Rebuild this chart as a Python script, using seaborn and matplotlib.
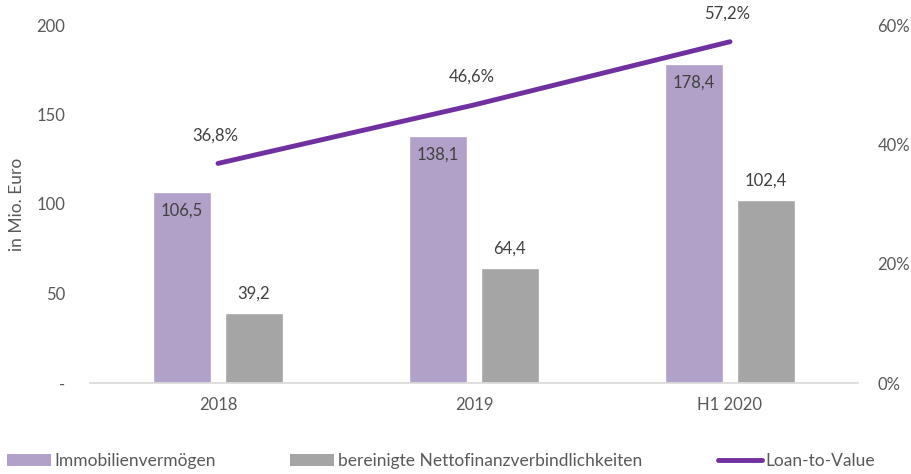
import matplotlib
matplotlib.use("Agg")
import matplotlib.pyplot as plt
from matplotlib.patches import Patch
from matplotlib.lines import Line2D
import numpy as np
import pandas as pd
import seaborn as sns

categories = ["2018", "2019", "H1 2020"]
immobilien = [106.5, 138.1, 178.4]
nettofinanz = [39.2, 64.4, 102.4]
ltv = [36.8, 46.6, 57.2]
series_names = ["Immobilienvermögen", "bereinigte Nettofinanzverbindlichkeiten"]
line_name = "Loan-to-Value"

sns.set_theme(style="white")
plt.rcParams["font.family"] = ["Lato", "DejaVu Sans"]

text_col = "#595959"
label_col = "#404040"
purple = "#B1A0C7"
grey = "#A5A5A5"
line_col = "#7030A0"

df = pd.DataFrame({
    "Jahr": categories * 2,
    "Wert": immobilien + nettofinanz,
    "Serie": [series_names[0]] * 3 + [series_names[1]] * 3,
})

W, H = 912, 474
fig = plt.figure(figsize=(W / 100, H / 100), dpi=100)
ax = fig.add_axes([90 / W, 1 - 383 / H, 768 / W, 358 / H])
sns.barplot(data=df, x="Jahr", y="Wert", hue="Serie", order=categories,
            palette=[purple, grey], width=0.56, gap=0.19, ax=ax,
            legend=False, saturation=1)

ax.set_xlim(-0.5, 2.5)
ax.set_ylim(0, 200)
ax.set_yticks([0, 50, 100, 150, 200])
ax.set_yticklabels(["-", "50", "100", "150", "200"])
ax.set_xlabel("")
ax.set_ylabel("in Mio. Euro", fontsize=12.5, color=text_col)
ax.yaxis.set_label_coords(-0.084, 0.5)
ax.tick_params(axis="both", length=0, labelsize=12, labelcolor=text_col)
ax.tick_params(axis="x", pad=10)
ax.tick_params(axis="y", pad=18)
for s in ["top", "right", "left"]:
    ax.spines[s].set_visible(False)
ax.spines["bottom"].set_color("#D9D9D9")
ax.spines["bottom"].set_linewidth(1.2)

# bar labels
for i, v in enumerate(immobilien):
    ax.text(i - 0.14, v - 6, f"{v:.1f}".replace(".", ","), ha="center", va="top",
            fontsize=12, color=label_col)
for i, v in enumerate(nettofinanz):
    ax.text(i + 0.14, v + 6, f"{v:.1f}".replace(".", ","), ha="center", va="bottom",
            fontsize=12, color=label_col)

ax2 = ax.twinx()
sns.lineplot(x=np.arange(len(categories)), y=ltv, color=line_col, linewidth=3.5,
             ax=ax2, legend=False)
ax2.set_ylim(0, 60)
ax2.set_yticks([0, 20, 40, 60])
ax2.set_yticklabels(["0%", "20%", "40%", "60%"])
ax2.tick_params(axis="y", length=0, labelsize=12, labelcolor=text_col, pad=14)
for s in ax2.spines.values():
    s.set_visible(False)
ax2.set_xlim(-0.5, 2.5)
for i, v in enumerate(ltv):
    ax2.text(i - 0.01, v + 3.4, f"{v:.1f}%".replace(".", ","), ha="center", va="bottom",
             fontsize=12, color=label_col)

# legend entries placed individually
handles = [
    Patch(facecolor=purple, edgecolor="none"),
    Patch(facecolor=grey, edgecolor="none"),
    Line2D([0], [0], color=line_col, linewidth=3.5, solid_capstyle="round"),
]
labels = series_names + [line_name]
lx = [7, 290, 718]
for h, lab, x in zip(handles, labels, lx):
    fig.legend([h], [lab], loc="center left", bbox_to_anchor=(x / W, 1 - 461 / H),
               frameon=False, fontsize=12.5, labelcolor=text_col, borderpad=0,
               borderaxespad=0, handlelength=2.53, handleheight=0.72,
               handletextpad=0.22)

fig.savefig("out.png", dpi=100)
